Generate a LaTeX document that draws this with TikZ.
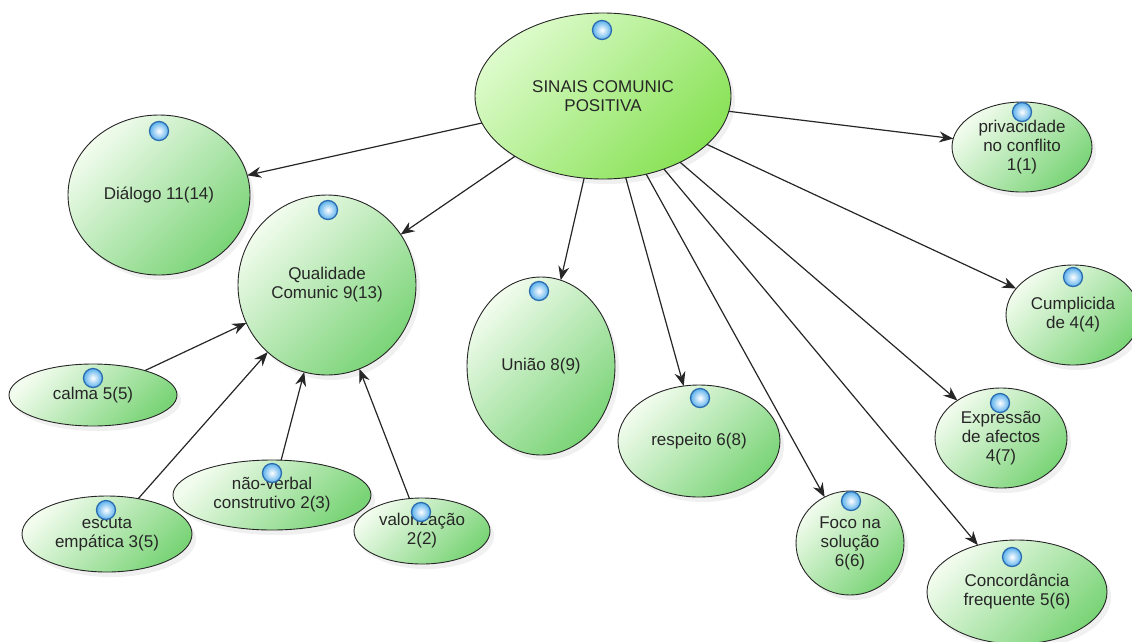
\documentclass[tikz,border=0pt]{standalone}
\usepackage{fontspec}
\setmainfont{Liberation Sans}
\usetikzlibrary{shapes.geometric,arrows.meta,shadows}
\definecolor{mainlight}{HTML}{DDFBCB}
\definecolor{maindark}{HTML}{88E256}
\definecolor{sublight}{HTML}{F2FCEE}
\definecolor{subdark}{HTML}{7AD477}
\definecolor{dotring}{HTML}{2B6CB0}
\definecolor{dotblue}{HTML}{5AB0EC}
\definecolor{txt}{HTML}{262626}
\begin{document}
\begin{tikzpicture}[x=1pt,y=-1pt,
  base/.style={ellipse, draw=black!85, line width=0.9pt, inner sep=0pt, outer sep=0pt,
    align=center, font=\fontsize{17}{19}\selectfont, text=txt,
    drop shadow={shadow xshift=4pt, shadow yshift=-5pt, opacity=0.12}},
  mainnode/.style={base, top color=mainlight, bottom color=maindark, shading angle=45},
  subnode/.style={base, top color=sublight, bottom color=subdark, shading angle=45},
  dot/.style={circle, minimum size=19pt, inner sep=0pt, draw=dotring, line width=1.3pt,
    inner color=white, outer color=dotblue},
  arr/.style={-{Stealth[length=14pt,width=11pt]}, line width=1.2pt, black!85}]
\useasboundingbox (0,0) rectangle (1132,641);

% nodes
\node[mainnode, minimum width=256pt, minimum height=166pt] (main) at (603,96) {SINAIS COMUNIC\\POSITIVA};
\node[subnode, minimum width=182pt, minimum height=160pt] (dialogo) at (159,195) {Diálogo 11(14)};
\node[subnode, minimum width=178pt, minimum height=180pt] (qual) at (327,285) {Qualidade\\Comunic 9(13)};
\node[subnode, minimum width=168pt, minimum height=62pt] (calma) at (93,395) {calma 5(5)};
\node[subnode, minimum width=170pt, minimum height=76pt] (escuta) at (107,534) {escuta\\empática 3(5)};
\node[subnode, minimum width=198pt, minimum height=70pt] (naoverbal) at (272,495) {não-verbal\\construtivo 2(3)};
\node[subnode, minimum width=136pt, minimum height=66pt] (valor) at (422,531) {valorização\\2(2)};
\node[subnode, minimum width=148pt, minimum height=178pt] (uniao) at (541,366) {União 8(9)};
\node[subnode, minimum width=162pt, minimum height=112pt] (respeito) at (699,441) {respeito 6(8)};
\node[subnode, minimum width=108pt, minimum height=104pt] (foco) at (850,543) {Foco na\\solução\\6(6)};
\node[subnode, minimum width=180pt, minimum height=104pt] (concord) at (1017,592) {Concordância\\frequente 5(6)};
\node[subnode, minimum width=132pt, minimum height=100pt] (expr) at (1001,438) {Expressão\\de afectos\\4(7)};
\node[subnode, minimum width=134pt, minimum height=100pt] (cumpl) at (1073,315) {Cumplicida\\de 4(4)};
\node[subnode, minimum width=140pt, minimum height=90pt] (priv) at (1022,147) {privacidade\\no conflito\\1(1)};

% connectors
\draw[arr] (main) -- (dialogo);
\draw[arr] (main) -- (qual);
\draw[arr] (main) -- (uniao);
\draw[arr] (main) -- (respeito);
\draw[arr] (main) -- (foco);
\draw[arr] (main) -- (concord);
\draw[arr] (main) -- (expr);
\draw[arr] (main) -- (cumpl);
\draw[arr] (main) -- (priv);
\draw[arr] (calma) -- (qual);
\draw[arr] (escuta) -- (qual);
\draw[arr] (naoverbal) -- (qual);
\draw[arr] (valor) -- (qual);

% blue dots
\node[dot] (d1) at (602,30) {};
\node[dot] (d2) at (159,131) {};
\node[dot] (d3) at (328,210) {};
\node[dot] (d4) at (93,378) {};
\node[dot] (d5) at (106,510) {};
\node[dot] (d6) at (272,473) {};
\node[dot] (d7) at (421,512) {};
\node[dot] (d8) at (539,291) {};
\node[dot] (d9) at (700,398) {};
\node[dot] (d10) at (851,501) {};
\node[dot] (d11) at (1012,557) {};
\node[dot] (d12) at (1000,403) {};
\node[dot] (d13) at (1073,277) {};
\node[dot] (d14) at (1022,112) {};
\end{tikzpicture}
\end{document}
